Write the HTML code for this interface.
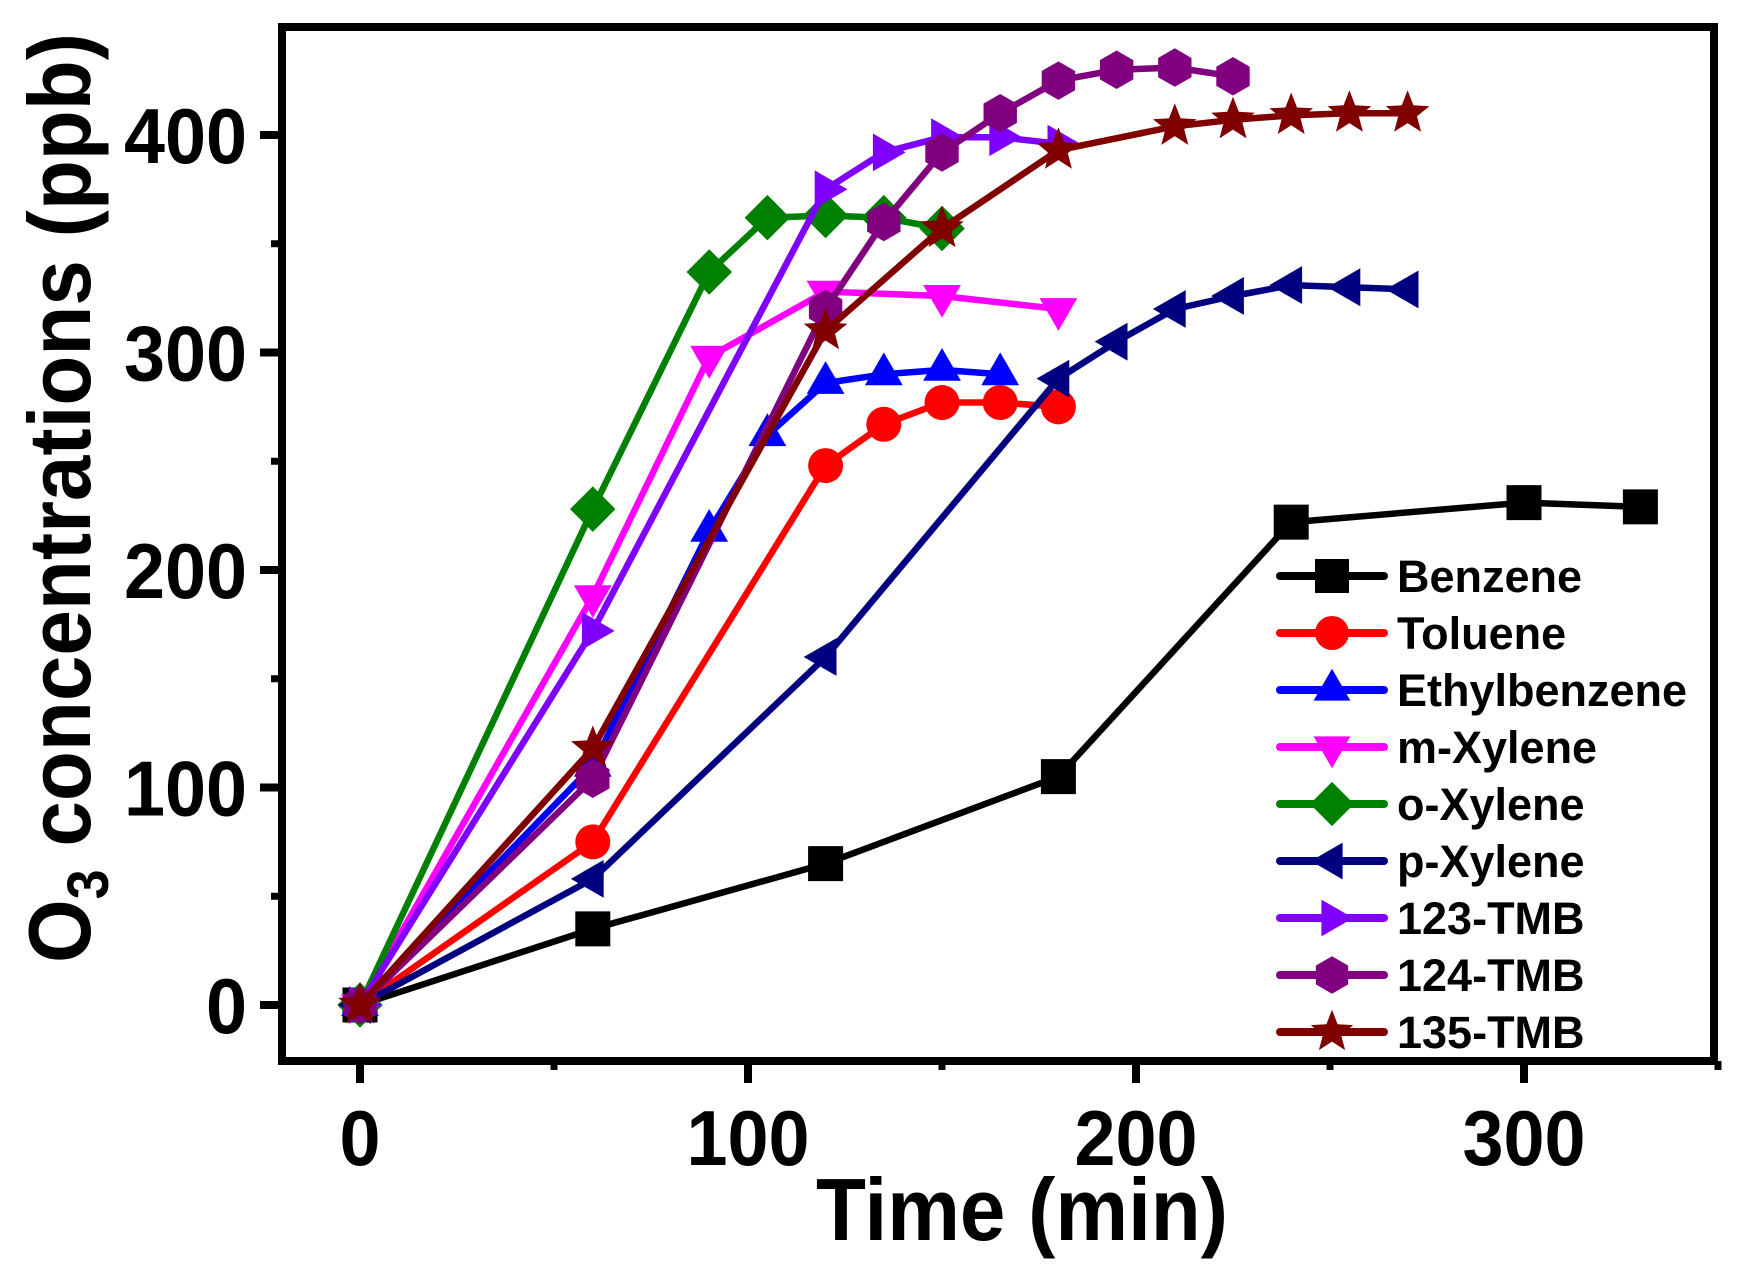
<!DOCTYPE html>
<html><head><meta charset="utf-8"><style>
html,body{margin:0;padding:0;background:#fff;}
svg{display:block;font-family:"Liberation Sans",Arial,sans-serif;font-weight:bold;}
</style></head><body>
<svg id="chart" width="1739" height="1276" viewBox="0 0 1739 1276" xmlns="http://www.w3.org/2000/svg">
<g id="grid-layer"></g>
<g id="series-layer"></g>
<rect x="282" y="27" width="1432" height="1034" fill="none" stroke="#000" stroke-width="8"/>
<g id="axes-layer"></g>
<text x="1022" y="1240" font-size="88" text-anchor="middle" textLength="412" lengthAdjust="spacingAndGlyphs">Time (min)</text>
<text transform="translate(90,498) rotate(-90)" font-size="88" text-anchor="middle" textLength="930" lengthAdjust="spacingAndGlyphs">O<tspan font-size="58" dy="18">3</tspan><tspan dy="-18"> concentrations (ppb)</tspan></text>
<g id="legend-layer"></g>
</svg>
<script>
const seriesNames = ["Benzene","Toluene","Ethylbenzene","m-Xylene","o-Xylene","p-Xylene","123-TMB","124-TMB","135-TMB"];
const seriesColors = ["#000000","#ff0000","#0000ff","#ff00ff","#008000","#000080","#8000ff","#800080","#800000"];
const seriesMarkers = ["square","circle","triUp","triDown","diamond","triLeft","triRight","hexagon","star"];
const benzeneX = [0,60,120,180,240,300,330];
const benzeneY = [0,35,65,105,222,231,229];
const tolueneX = [0,60,120,135,150,165,180];
const tolueneY = [0,75,248,267,277,277,275];
const ethylbenzeneX = [0,60,90,105,120,135,150,165];
const ethylbenzeneY = [0,110,218,262,286,290,292,290];
const mXyleneX = [0,60,90,120,150,180];
const mXyleneY = [0,188,298,328,326,320];
const oXyleneX = [0,60,90,105,120,135,150];
const oXyleneY = [0,228,337,362,363,362,357];
const pXyleneX = [0,60,120,180,195,210,225,240,255,270];
const pXyleneY = [0,58,160,288,305,320,326,331,330,329];
const tmb123X = [0,60,120,135,150,165,180];
const tmb123Y = [0,172,375,392,399,399,396];
const tmb124X = [0,60,120,135,150,165,180,195,210,225];
const tmb124Y = [0,104,320,360,392,410,425,430,431,427];
const tmb135X = [0,60,120,150,180,210,225,240,255,270];
const tmb135Y = [0,118,310,357,393,404,407,409,410,410];
const xTicks = [0,100,200,300];
const xMinorTicks = [50,150,250,350];
const yTicks = [0,100,200,300,400];
const yMinorTicks = [50,150,250,350];

const allX = [benzeneX,tolueneX,ethylbenzeneX,mXyleneX,oXyleneX,pXyleneX,tmb123X,tmb124X,tmb135X];
const allY = [benzeneY,tolueneY,ethylbenzeneY,mXyleneY,oXyleneY,pXyleneY,tmb123Y,tmb124Y,tmb135Y];

const NS="http://www.w3.org/2000/svg";
function sx(v){return 360+(v-0)*3.88;}
function sy(v){return 1005-v*2.175;}
function mk(tag,attrs,parent){const e=document.createElementNS(NS,tag);for(const k in attrs)e.setAttribute(k,attrs[k]);parent.appendChild(e);return e;}

function markerPath(type,cx,cy,r){
  let pts=[];
  if(type==="square"){return `M${cx-r},${cy-r}H${cx+r}V${cy+r}H${cx-r}Z`;}
  if(type==="circle"){return `M${cx-r},${cy}a${r},${r} 0 1,0 ${2*r},0a${r},${r} 0 1,0 ${-2*r},0Z`;}
  const R=r*1.25;
  const poly=(angles,rad)=>angles.map((a,i)=>{const rr=Array.isArray(rad)?rad[i]:rad;return [cx+rr*Math.cos(a*Math.PI/180),cy+rr*Math.sin(a*Math.PI/180)];});
  if(type==="triUp")pts=poly([-90,30,150],R);
  if(type==="triDown")pts=poly([90,210,330],R);
  if(type==="triLeft")pts=poly([180,300,60],R);
  if(type==="triRight")pts=poly([0,120,240],R);
  if(type==="diamond")pts=poly([-90,0,90,180],r*1.3);
  if(type==="hexagon")pts=poly([-90,-30,30,90,150,210],r*1.1);
  if(type==="star"){const a=[],rd=[];for(let i=0;i<10;i++){a.push(-90+i*36);rd.push(i%2?R*0.45:R*1.05);}pts=poly(a,rd);}
  return "M"+pts.map(p=>p[0].toFixed(1)+","+p[1].toFixed(1)).join("L")+"Z";
}

const axes=document.getElementById('axes-layer');
xTicks.forEach(t=>{
  const l=mk('line',{x1:sx(t),x2:sx(t),y1:1061,y2:1083,stroke:'#000','stroke-width':8},axes);
  
  
  const tx=mk('text',{x:sx(t),y:1165,'font-size':78,'text-anchor':'middle',textLength:String(t).length*41,lengthAdjust:'spacingAndGlyphs'},axes);
  tx.textContent=t;
  
  
});
xMinorTicks.forEach(t=>{
  const l=mk('line',{x1:sx(t),x2:sx(t),y1:1061,y2:1070,stroke:'#000','stroke-width':7},axes);
  
  
});
yTicks.forEach(t=>{
  const l=mk('line',{x1:260,x2:282,y1:sy(t),y2:sy(t),stroke:'#000','stroke-width':8},axes);
  
  
  const tx=mk('text',{x:247,y:sy(t)+28,'font-size':78,'text-anchor':'end',textLength:String(t).length*41,lengthAdjust:'spacingAndGlyphs'},axes);
  tx.textContent=t;
  
  
});
yMinorTicks.forEach(t=>{
  const l=mk('line',{x1:271,x2:282,y1:sy(t),y2:sy(t),stroke:'#000','stroke-width':7},axes);
  
  
});

const sl=document.getElementById('series-layer');
seriesNames.forEach((name,i)=>{
  const g=mk('g',{},sl);
  
  
  const d=allX[i].map((x,j)=>(j?'L':'M')+sx(x).toFixed(1)+','+sy(allY[i][j]).toFixed(1)).join('');
  const p=mk('path',{d:d,fill:'none',stroke:seriesColors[i],'stroke-width':6.5,'stroke-linejoin':'round'},g);
  
  
  allX[i].forEach((x,j)=>{
    const m=mk('path',{d:markerPath(seriesMarkers[i],sx(x),sy(allY[i][j]),17.5),fill:seriesColors[i]},g);
    
    
  });
});

const lg=document.getElementById('legend-layer');
seriesNames.forEach((name,i)=>{
  const y=576+i*57;
  const g=mk('g',{},lg);
  
  
  mk('line',{x1:1280,x2:1384,y1:y,y2:y,stroke:seriesColors[i],'stroke-width':8,'stroke-linecap':'round'},g);
  mk('path',{d:markerPath(seriesMarkers[i],1332,y,17),fill:seriesColors[i]},g);
  const t=mk('text',{x:1397,y:y+16,'font-size':45},g);
  t.textContent=name;
});
</script>
</body></html>
